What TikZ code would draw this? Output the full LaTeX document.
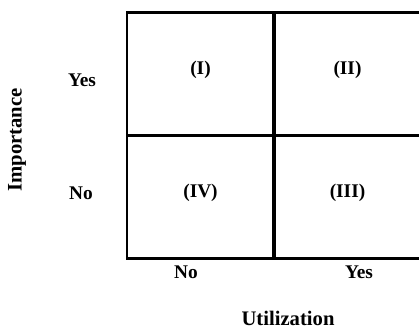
\documentclass[tikz,border=0pt]{standalone}
\usepackage{fontspec}
\setmainfont{Liberation Serif}
\usetikzlibrary{positioning}

\begin{document}
\begin{tikzpicture}[
  x=0.75pt, y=-0.75pt,
  every node/.style={font=\bfseries},
  cell/.style={
    rectangle, draw, line width=2.25pt,
    minimum width=110.25pt, minimum height=91.9pt,
    inner sep=0pt, align=center, font=\fontsize{14.5}{16}\bfseries,
    text depth=9pt,
  },
  ticklbl/.style={font=\fontsize{14.5}{16}\bfseries},
  axislbl/.style={font=\fontsize{15.5}{18}\bfseries},
]
  \useasboundingbox (0,0) rectangle (419,329);

  % quadrants
  \node[cell] (q1) at (200.5,74.25)  {(I)};
  \node[cell] (q2) at (347.5,74.25)  {(II)};
  \node[cell] (q4) at (200.5,196.75) {(IV)};
  \node[cell] (q3) at (347.5,196.75) {(III)};

  % importance axis
  \node[ticklbl] (impyes) at (82,80)  {Yes};
  \node[ticklbl] (impno)  at (81,193) {No};
  \node[axislbl, rotate=90] (imp) at (17,140) {Importance};

  % utilization axis
  \node[ticklbl] (utino)  at (186,272) {No};
  \node[ticklbl] (utiyes) at (359,272) {Yes};
  \node[axislbl] (uti) at (288,318) {Utilization};

\end{tikzpicture}
\end{document}
